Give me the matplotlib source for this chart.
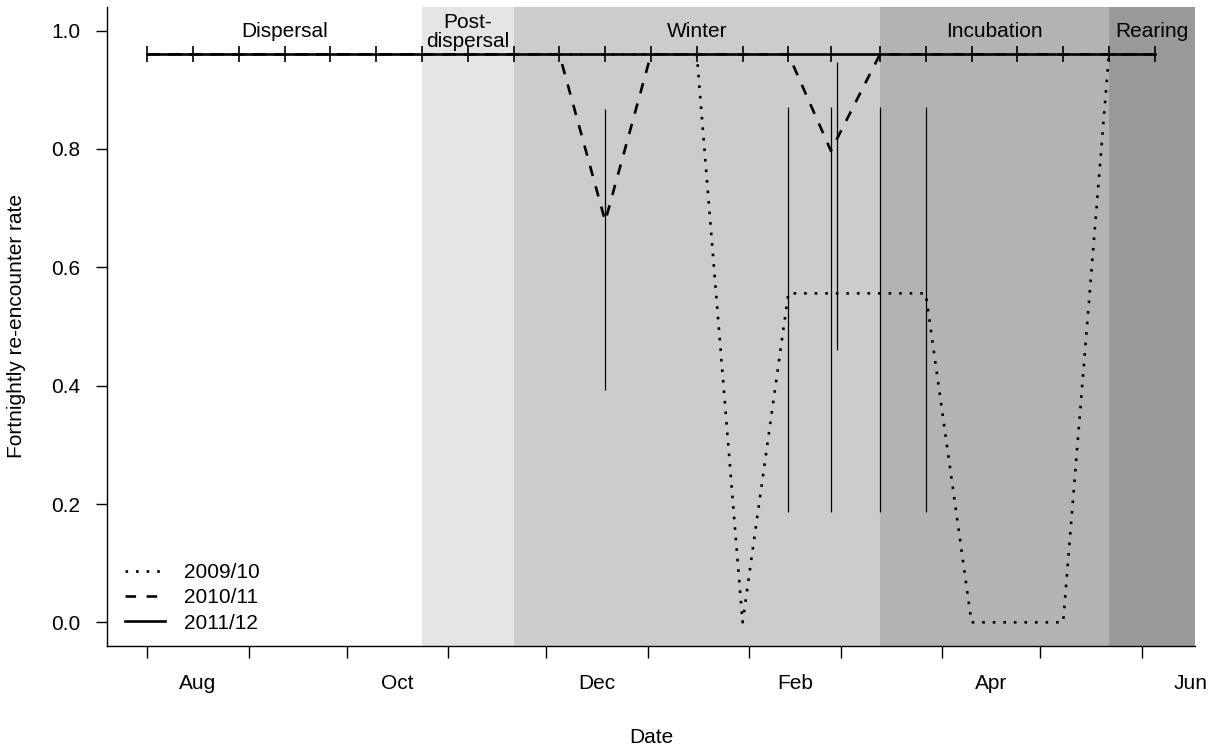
import matplotlib.pyplot as plt

plt.rcParams['font.family'] = ['Liberation Sans', 'DejaVu Sans']

# fortnight mid-points, in days after 1 August
fortnight_day = [0, 14, 28, 42, 56, 70, 84, 98, 112, 126, 140, 154,
                 168, 182, 196, 209, 224, 238, 252, 266, 280, 294, 308]

# fortnightly re-encounter rate per season
rate_2009 = [0.96, 0.96, 0.96, 0.96, 0.96, 0.96, 0.96, 0.96, 0.96, 0.96, 0.96, 0.96,
             0.96, 0.0, 0.556, 0.556, 0.556, 0.556, 0.0, 0.0, 0.0, 0.96, 0.96]
rate_2010 = [0.96, 0.96, 0.96, 0.96, 0.96, 0.96, 0.96, 0.96, 0.96, 0.96, 0.678, 0.96,
             0.96, 0.96, 0.96, 0.797, 0.96, 0.96, 0.96, 0.96, 0.96, 0.96, 0.96]
rate_2011 = [0.96, 0.96, 0.96, 0.96, 0.96, 0.96, 0.96, 0.96, 0.96, 0.96, 0.96, 0.96,
             0.96, 0.96, 0.96, 0.96, 0.96, 0.96, 0.96, 0.96, 0.96, 0.96, 0.96]

# 95% confidence intervals where the rate drops below 1
ci_day = [140, 196, 209, 211, 224, 238]
ci_low = [0.392, 0.187, 0.187, 0.461, 0.187, 0.187]
ci_high = [0.867, 0.871, 0.871, 0.947, 0.871, 0.871]

# annual cycle stages
stage_names = ["Dispersal", "Post-\ndispersal", "Winter", "Incubation", "Rearing"]
stage_start = [0, 84, 112, 224, 294]
stage_end = [84, 112, 224, 294, 340]
stage_grey = ["white", "#e5e5e5", "#cccccc", "#b3b3b3", "#999999"]

# month boundaries and labels
month_start = [0, 31, 61, 92, 122, 153, 184, 212, 243, 273, 304]
month_mid = [15.5, 76.5, 137.5, 198, 258, 319]
month_labels = ["Aug", "Oct", "Dec", "Feb", "Apr", "Jun"]

y_ticks = [0.0, 0.2, 0.4, 0.6, 0.8, 1.0]

FS = 15

W, H = 1217, 749
fig = plt.figure(figsize=(W / 100, H / 100), dpi=100)
ax = fig.add_axes([107 / W, (H - 646) / H, 1088 / W, 639 / H])

xmin, xmax = -12.32, 320.32
ax.set_xlim(xmin, xmax)
ax.set_ylim(-0.04, 1.04)

# shaded stages with their names along the top
for name, s, e, g in zip(stage_names, stage_start, stage_end, stage_grey):
    ax.axvspan(s, e, color=g, lw=0, zorder=0)
    mid = (s + min(e, xmax)) / 2
    ax.text(mid, 0.998, name, ha='center', va='center', fontsize=FS,
            linespacing=1.0, zorder=5)

ax.vlines(ci_day, ci_low, ci_high, color='black', lw=0.9, zorder=2)

ax.plot(fortnight_day, rate_2009, color='black', lw=1.9, ls=(0, (1, 3)),
        label='2009/10', zorder=2)
ax.plot(fortnight_day, rate_2010, color='black', lw=1.9, ls=(0, (4, 4)),
        label='2010/11', zorder=2)
ax.plot(fortnight_day, rate_2011, color='black', lw=1.9, ls='-',
        label='2011/12', zorder=3)
ax.plot(fortnight_day, rate_2011, color='black', ls='none', marker='|',
        ms=11, mew=1.2, zorder=3)

ax.legend(loc='lower left', bbox_to_anchor=(0.0165, 0.021), frameon=False,
          fontsize=FS, handlelength=1.9, handletextpad=0.95, labelspacing=0.3,
          borderpad=0, borderaxespad=0)

# axes styled like base R with bty="l"
for side in ['top', 'right']:
    ax.spines[side].set_visible(False)
for side in ['left', 'bottom']:
    ax.spines[side].set_linewidth(1.0)

ax.set_xticks(month_start, labels=[])
ax.set_xticks(month_mid, labels=month_labels, minor=True)
ax.tick_params(axis='x', which='major', length=8.6, width=1.0)
ax.tick_params(axis='x', which='minor', length=0, pad=20, labelsize=FS)
ax.set_yticks(y_ticks, labels=[f"{v:.1f}" for v in y_ticks])
ax.tick_params(axis='y', length=8, width=1.0, pad=11, labelsize=FS)

ax.set_xlabel("Date", fontsize=FS)
ax.xaxis.set_label_coords(0.5, -0.128)
ax.set_ylabel("Fortnightly re-encounter rate", fontsize=FS)
ax.yaxis.set_label_coords(-0.074, 0.5)

fig.savefig("out.png", dpi=100)
